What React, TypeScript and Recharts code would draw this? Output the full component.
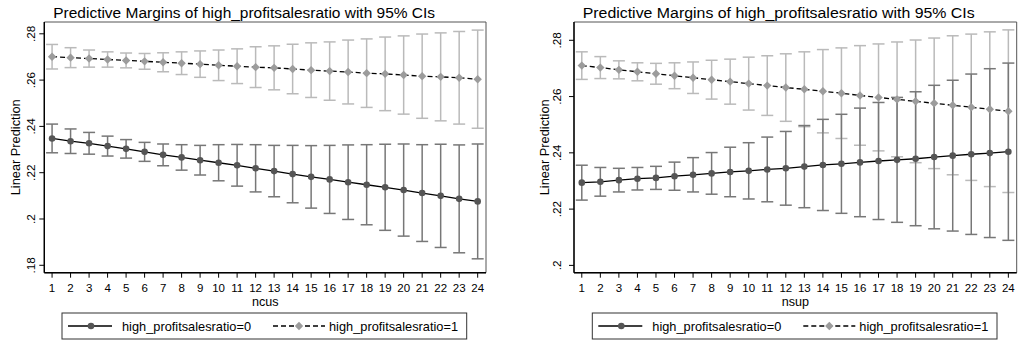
import React from 'react';
import { ComposedChart, Line, XAxis, YAxis, ErrorBar, ReferenceArea } from 'recharts';

const FONT = '"Liberation Sans", Arial, Helvetica, sans-serif';

const xValues = [1, 2, 3, 4, 5, 6, 7, 8, 9, 10, 11, 12, 13, 14, 15, 16, 17, 18, 19, 20, 21, 22, 23, 24];

// Left panel (ncus)
const ncusMean0 = [0.2348, 0.2336, 0.2327, 0.2315, 0.2303, 0.2290, 0.2277, 0.2266, 0.2254, 0.2243, 0.2232, 0.2219, 0.2207, 0.2194, 0.2182, 0.2171, 0.2159, 0.2148, 0.2137, 0.2125, 0.2112, 0.2100, 0.2087, 0.2076];
const ncusLow0 = [0.2286, 0.2283, 0.2280, 0.2272, 0.2263, 0.2249, 0.2230, 0.2211, 0.2190, 0.2165, 0.2142, 0.2117, 0.2096, 0.2070, 0.2047, 0.2024, 0.1998, 0.1975, 0.1951, 0.1926, 0.1903, 0.1877, 0.1854, 0.1828];
const ncusHigh0 = [0.2410, 0.2389, 0.2374, 0.2358, 0.2343, 0.2331, 0.2324, 0.2321, 0.2318, 0.2321, 0.2322, 0.2321, 0.2318, 0.2318, 0.2317, 0.2318, 0.2320, 0.2321, 0.2323, 0.2324, 0.2321, 0.2323, 0.2320, 0.2324];
const ncusMean1 = [0.2701, 0.2697, 0.2693, 0.2689, 0.2685, 0.2681, 0.2677, 0.2673, 0.2669, 0.2664, 0.2660, 0.2656, 0.2653, 0.2648, 0.2643, 0.2639, 0.2635, 0.2630, 0.2627, 0.2622, 0.2617, 0.2614, 0.2610, 0.2604];
const ncusLow1 = [0.2648, 0.2654, 0.2656, 0.2656, 0.2653, 0.2647, 0.2636, 0.2624, 0.2612, 0.2598, 0.2585, 0.2568, 0.2558, 0.2541, 0.2525, 0.2513, 0.2497, 0.2482, 0.2468, 0.2453, 0.2435, 0.2424, 0.2410, 0.2392];
const ncusHigh1 = [0.2754, 0.2740, 0.2730, 0.2722, 0.2717, 0.2715, 0.2718, 0.2722, 0.2726, 0.2730, 0.2735, 0.2744, 0.2748, 0.2755, 0.2761, 0.2765, 0.2773, 0.2778, 0.2786, 0.2791, 0.2799, 0.2804, 0.2810, 0.2816];

// Right panel (nsup)
const nsupMean0 = [0.2294, 0.2297, 0.2303, 0.2308, 0.2311, 0.2317, 0.2322, 0.2327, 0.2332, 0.2336, 0.2341, 0.2345, 0.2351, 0.2357, 0.2361, 0.2366, 0.2371, 0.2375, 0.2379, 0.2385, 0.2390, 0.2395, 0.2399, 0.2404];
const nsupLow0 = [0.2232, 0.2246, 0.2261, 0.2268, 0.2270, 0.2267, 0.2261, 0.2253, 0.2244, 0.2236, 0.2226, 0.2214, 0.2205, 0.2195, 0.2185, 0.2173, 0.2163, 0.2153, 0.2141, 0.2130, 0.2122, 0.2110, 0.2099, 0.2089];
const nsupHigh0 = [0.2356, 0.2348, 0.2345, 0.2348, 0.2352, 0.2367, 0.2383, 0.2401, 0.2420, 0.2436, 0.2456, 0.2476, 0.2497, 0.2519, 0.2537, 0.2559, 0.2579, 0.2597, 0.2617, 0.2640, 0.2658, 0.2680, 0.2699, 0.2719];
const nsupMean1 = [0.2710, 0.2703, 0.2695, 0.2688, 0.2681, 0.2674, 0.2667, 0.2660, 0.2653, 0.2646, 0.2639, 0.2632, 0.2626, 0.2619, 0.2612, 0.2604, 0.2597, 0.2590, 0.2583, 0.2576, 0.2569, 0.2562, 0.2555, 0.2548];
const nsupLow1 = [0.2661, 0.2664, 0.2663, 0.2656, 0.2644, 0.2628, 0.2611, 0.2591, 0.2573, 0.2552, 0.2533, 0.2512, 0.2493, 0.2471, 0.2451, 0.2427, 0.2407, 0.2386, 0.2365, 0.2344, 0.2322, 0.2302, 0.2280, 0.2259];
const nsupHigh1 = [0.2759, 0.2742, 0.2727, 0.2720, 0.2718, 0.2720, 0.2723, 0.2729, 0.2733, 0.2740, 0.2745, 0.2752, 0.2759, 0.2767, 0.2773, 0.2781, 0.2787, 0.2794, 0.2801, 0.2808, 0.2816, 0.2822, 0.2830, 0.2837];

const leftYTicks = [0.18, 0.2, 0.22, 0.24, 0.26, 0.28];
const rightYTicks = [0.2, 0.22, 0.24, 0.26, 0.28];
const titleText = 'Predictive Margins of high_profitsalesratio with 95% CIs';
const yTitle = 'Linear Prediction';
const xTitles = ['ncus', 'nsup'];
const seriesNames = ['high_profitsalesratio=0', 'high_profitsalesratio=1'];

const X_DOMAIN: [number, number] = [0.58, 24.45];
const LEFT_Y_DOMAIN: [number, number] = [0.1768, 0.2851];
const RIGHT_Y_DOMAIN: [number, number] = [0.1974, 0.2865];

const C0_MARK = '#555555';
const C0_CI = '#777777';
const C1_MARK = '#9c9c9c';
const C1_CI = '#bababa';

function build(m0: number[], lo0: number[], hi0: number[], m1: number[], lo1: number[], hi1: number[]) {
  return xValues.map((x, i) => ({
    x,
    m0: m0[i],
    e0: [m0[i] - lo0[i], hi0[i] - m0[i]],
    m1: m1[i],
    e1: [m1[i] - lo1[i], hi1[i] - m1[i]],
  }));
}

const leftData = build(ncusMean0, ncusLow0, ncusHigh0, ncusMean1, ncusLow1, ncusHigh1);
const rightData = build(nsupMean0, nsupLow0, nsupHigh0, nsupMean1, nsupLow1, nsupHigh1);

const fmt = (v: number) => {
  const s = String(Number(v.toFixed(2)));
  return s.startsWith('0') ? s.slice(1) : s;
};

const YTick = (props: any) => {
  const { x, y, payload, gap } = props;
  const bx = x - gap;
  return (
    <text x={bx} y={y} transform={`rotate(-90, ${bx}, ${y})`} textAnchor="middle" fontSize={11.8} fontFamily={FONT} fill="#000">
      {fmt(payload.value)}
    </text>
  );
};

const CircleDot = (props: any) => {
  const { cx, cy, index } = props;
  if (cx == null || cy == null) return <g key={`c${index}`} />;
  return <circle key={`c${index}`} cx={cx} cy={cy} r={3.3} fill={C0_MARK} stroke="none" />;
};

const DiamondDot = (props: any) => {
  const { cx, cy, index } = props;
  if (cx == null || cy == null) return <g key={`d${index}`} />;
  const s = 4.2;
  return (
    <polygon key={`d${index}`} points={`${cx},${cy - s} ${cx + s},${cy} ${cx},${cy + s} ${cx - s},${cy}`} fill={C1_MARK} stroke="none" />
  );
};

function Panel({ data, yDomain, yTicks, yAxisWidth, marginRight, yTickGap }: any) {
  return (
    <ComposedChart width={510} height={341} data={data} margin={{ top: 22, right: marginRight, bottom: 0, left: 0 }}>
      <XAxis
        dataKey="x"
        type="number"
        domain={X_DOMAIN}
        ticks={xValues}
        allowDataOverflow
        interval={0}
        tickSize={5}
        tickMargin={6}
        height={68.3}
        tick={{ fontSize: 11.5, fill: '#000', fontFamily: FONT }}
        axisLine={{ stroke: '#000', strokeWidth: 1.4 }}
        tickLine={{ stroke: '#000', strokeWidth: 1 }}
      />
      <YAxis
        type="number"
        domain={yDomain}
        ticks={yTicks}
        allowDataOverflow
        width={yAxisWidth}
        tickSize={5}
        tickMargin={0}
        tick={<YTick gap={yTickGap} />}
        axisLine={{ stroke: '#000', strokeWidth: 1.4 }}
        tickLine={{ stroke: '#000', strokeWidth: 1 }}
      />
      <ReferenceArea x1={X_DOMAIN[0]} x2={X_DOMAIN[1]} y1={yDomain[0]} y2={yDomain[1]} fill="none" fillOpacity={0} stroke="#555" strokeWidth={1} ifOverflow="visible" />
      <Line dataKey="m1" stroke="none" dot={false} activeDot={false} isAnimationActive={false}>
        <ErrorBar dataKey="e1" width={6} stroke={C1_CI} strokeWidth={1.5} isAnimationActive={false} />
      </Line>
      <Line dataKey="m0" stroke="none" dot={false} activeDot={false} isAnimationActive={false}>
        <ErrorBar dataKey="e0" width={6} stroke={C0_CI} strokeWidth={1.5} isAnimationActive={false} />
      </Line>
      <Line dataKey="m0" type="linear" stroke="#000" strokeWidth={1.3} dot={CircleDot} activeDot={false} isAnimationActive={false} />
      <Line dataKey="m1" type="linear" stroke="#000" strokeWidth={1.3} strokeDasharray="5 3" dot={DiamondDot} activeDot={false} isAnimationActive={false} />
    </ComposedChart>
  );
}

function LegendBox({ left, top }: { left: number; top: number }) {
  const cy = top + 13;
  return (
    <g>
      <rect x={left} y={top} width={404.7} height={26} fill="#fff" stroke="#333" strokeWidth={1} />
      <line x1={left + 6} x2={left + 50} y1={cy} y2={cy} stroke="#000" strokeWidth={1.3} />
      <circle cx={left + 29} cy={cy} r={3.3} fill={C0_MARK} />
      <text x={left + 60} y={cy + 4.5} fontSize={12.8} fontFamily={FONT} fill="#000" textLength={129} lengthAdjust="spacingAndGlyphs">{seriesNames[0]}</text>
      <line x1={left + 211} x2={left + 263} y1={cy} y2={cy} stroke="#000" strokeWidth={1.3} strokeDasharray="5 3" />
      <polygon points={`${left + 237},${cy - 4.2} ${left + 241.2},${cy} ${left + 237},${cy + 4.2} ${left + 232.8},${cy}`} fill={C1_MARK} />
      <text x={left + 267} y={cy + 4.5} fontSize={12.8} fontFamily={FONT} fill="#000" textLength={129} lengthAdjust="spacingAndGlyphs">{seriesNames[1]}</text>
    </g>
  );
}

export default function App() {
  return (
    <div style={{ position: 'absolute', left: 0, top: 0, width: 1020, height: 341, background: '#fff', fontFamily: FONT }}>
      <div style={{ position: 'absolute', left: 0, top: 0 }}>
        <Panel data={leftData} yDomain={LEFT_Y_DOMAIN} yTicks={leftYTicks} yAxisWidth={44.3} marginRight={24} yTickGap={4.3} />
      </div>
      <div style={{ position: 'absolute', left: 510, top: 0 }}>
        <Panel data={rightData} yDomain={RIGHT_Y_DOMAIN} yTicks={rightYTicks} yAxisWidth={64} marginRight={3.3} yTickGap={7.5} />
      </div>
      <svg width={1020} height={341} style={{ position: 'absolute', left: 0, top: 0, pointerEvents: 'none' }}>
        <text x={53.3} y={17.5} fontSize={15.5} fontFamily={FONT} fill="#000" textLength={381.7} lengthAdjust="spacingAndGlyphs">{titleText}</text>
        <text x={582.7} y={17.5} fontSize={15.5} fontFamily={FONT} fill="#000" textLength={392} lengthAdjust="spacingAndGlyphs">{titleText}</text>
        <text x={20.3} y={147.3} transform="rotate(-90, 20.3, 147.3)" textAnchor="middle" fontSize={12.8} fontFamily={FONT} fill="#000">{yTitle}</text>
        <text x={549.3} y={147.3} transform="rotate(-90, 549.3, 147.3)" textAnchor="middle" fontSize={12.8} fontFamily={FONT} fill="#000">{yTitle}</text>
        <text x={265.2} y={305.5} textAnchor="middle" fontSize={12.6} fontFamily={FONT} fill="#000">{xTitles[0]}</text>
        <text x={795.3} y={305.5} textAnchor="middle" fontSize={12.6} fontFamily={FONT} fill="#000">{xTitles[1]}</text>
        <LegendBox left={62} top={313} />
        <LegendBox left={592.3} top={313} />
      </svg>
    </div>
  );
}
